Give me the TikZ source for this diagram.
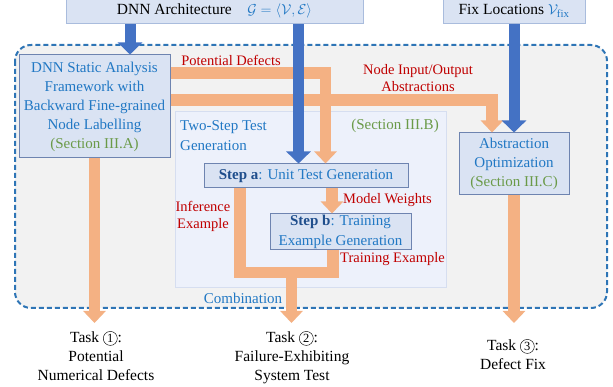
\documentclass[tikz,border=0pt]{standalone}
\usepackage{fontspec}
\setmainfont{Liberation Serif}
\usetikzlibrary{arrows.meta,positioning}
\definecolor{boxfill}{HTML}{DAE3F3}
\definecolor{boxline}{HTML}{6E84B0}
\definecolor{topline}{HTML}{A9BCDD}
\definecolor{groupfill}{HTML}{EDF1FB}
\definecolor{groupline}{HTML}{D6DEF0}
\definecolor{framefill}{HTML}{F2F2F2}
\definecolor{frameline}{HTML}{2E75B6}
\definecolor{arrblue}{HTML}{4472C4}
\definecolor{arrorange}{HTML}{F4B183}
\definecolor{lblred}{HTML}{C00000}
\definecolor{txtblue}{HTML}{2178C4}
\definecolor{stepblue}{HTML}{1F4E8C}
\definecolor{secgreen}{HTML}{6A9A48}
\newcommand{\sect}[1]{{\color{secgreen}(Section #1)}}
\newcommand{\circnum}[1]{\tikz[baseline=(cn.base)]\node[draw,circle,line width=0.45pt,inner sep=0.4pt,minimum size=14pt,font=\fontsize{12.5}{12.5}\selectfont] (cn) {#1};}

\begin{document}
\begin{tikzpicture}[x=1pt,y=-1pt,
 box/.style={draw=boxline,fill=boxfill,line width=1pt,align=center,inner sep=0pt,font=\fontsize{15}{19}\selectfont,text=txtblue},
 topbox/.style={box,draw=topline,text=black,font=\fontsize{15.5}{19}\selectfont},
 group/.style={draw=groupline,fill=groupfill,line width=1pt,inner sep=0pt},
 lbl/.style={text=lblred,align=center,font=\fontsize{14.5}{17}\selectfont,inner sep=0pt},
 bluelbl/.style={text=txtblue,font=\fontsize{15}{20}\selectfont,inner sep=0pt},
 task/.style={align=center,font=\fontsize{15.5}{19}\selectfont,inner xsep=0pt,anchor=north},
 barrow/.style={draw=arrblue,line width=11pt,-{Triangle[length=12pt,width=24pt]}},
 oarrow/.style={draw=arrorange,line width=11.5pt,-{Triangle[length=12pt,width=22pt]}},
 oband/.style={draw=arrorange,line width=11.5pt}]
\useasboundingbox (0,0) rectangle (613,387);
% dashed frame and step group
\draw[frameline,fill=framefill,line width=2pt,dash pattern=on 5pt off 3pt,rounded corners=16pt] (15,45) rectangle (607,308);
\node[group,minimum width=271pt,minimum height=176pt] (twostep) at (310.5,200) {};

% boxes
\node[topbox,minimum width=297pt,minimum height=26pt] (arch) at (214.5,11) {DNN Architecture\quad{\color{txtblue}$\mathcal{G}=\langle\mathcal{V},\mathcal{E}\rangle$}};
\node[topbox,minimum width=142pt,minimum height=26pt] (fix) at (514,11) {Fix Locations {\color{txtblue}$\mathcal{V}_{\mathrm{fix}}$}};
\node[box,minimum width=151pt,minimum height=103pt] (static) at (94.5,106.5) {DNN Static Analysis\\Framework with\\Backward Fine-grained\\Node Labelling\\\sect{III.A}};
\node[box,minimum width=204pt,minimum height=24pt] (stepa) at (306,176) {{\color{stepblue}\textbf{Step a}}: Unit Test Generation};
\node[box,minimum width=141pt,minimum height=36pt,font=\fontsize{15}{20}\selectfont] (stepb) at (340.5,232) {{\color{stepblue}\textbf{Step b}}: Training\\Example Generation};
\node[box,minimum width=110pt,minimum height=62pt] (abstr) at (514,164) {Abstraction\\Optimization\\\sect{III.C}};

% tasks
\node[task,inner ysep=8pt] (task1) at (96,323) {Task \circnum{1}:\\Potential\\Numerical Defects};
\node[task,inner ysep=8pt] (task2) at (292,323) {Task \circnum{2}:\\Failure-Exhibiting\\System Test};
\node[task,inner ysep=16pt] (task3) at (513,323) {Task \circnum{3}:\\Defect Fix};

% turning points
\coordinate (archx) at (130,0);
\coordinate (gx) at (298.5,0);
\coordinate (pd) at (325.5,73);
\coordinate (io) at (492,100);
\coordinate (mw) at (332,0);
\coordinate (infl) at (240,272.5);
\coordinate (trnr) at (333,272.5);
\coordinate (comb) at (291.5,272.5);

% orange flows
\draw[oarrow] (static.east |- pd) -| (stepa.north -| pd);
\draw[oarrow] (static.east |- io) -| (abstr.north -| io);
\draw[oarrow] (static.south) -- (static.south |- task1.north);
\draw[oarrow] (abstr.south) -- (abstr.south |- task3.north);
\draw[oarrow] (stepa.south -| mw) -- (stepb.north -| mw);
\draw[oband] (stepa.south -| infl) -- (infl) -- (trnr) -- (stepb.south -| trnr);
\draw[oarrow] (comb) -- (comb |- task2.north);

% blue inputs
\draw[barrow] (arch.south -| archx) -- (static.north -| archx);
\draw[barrow] (arch.south -| gx) -- (stepa.north -| gx);
\draw[barrow] (fix.south) -- (abstr.north);

% labels
\node[lbl] (pdl) at (231,60) {Potential Defects};
\node[lbl] (iol) at (418,78) {Node Input/Output\\Abstractions};
\node[bluelbl,anchor=west,align=left] (tsl) at (180,136) {Two-Step Test\\Generation};
\node[bluelbl,text=secgreen] (secb) at (395,126) {(Section III.B)};
\node[lbl] (infel) at (203,216.5) {Inference\\Example};
\node[lbl,anchor=west] (mwl) at (343,200) {Model Weights};
\node[lbl,anchor=west] (trl) at (340,259) {Training Example};
\node[bluelbl] (combl) at (243,298) {Combination};
\end{tikzpicture}
\end{document}
